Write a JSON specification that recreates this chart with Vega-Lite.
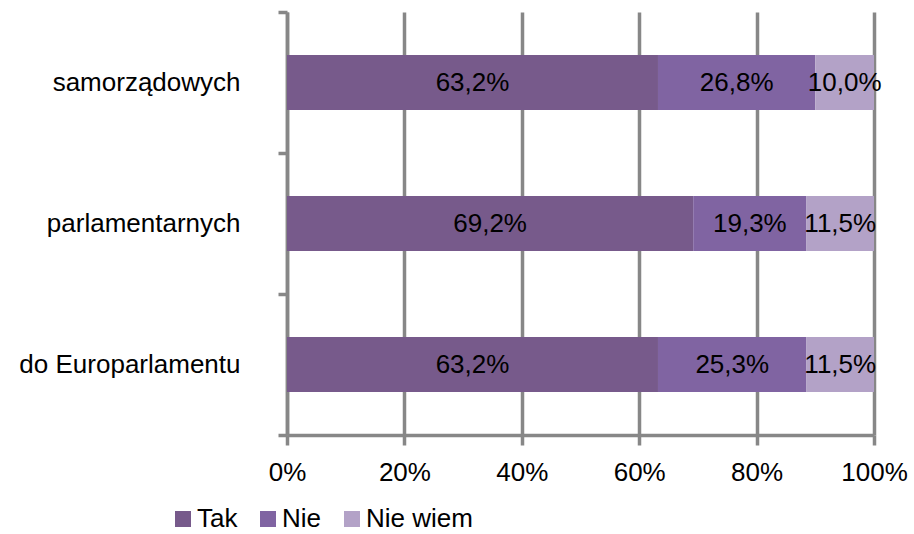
{
  "$schema": "https://vega.github.io/schema/vega-lite/v6.json",
  "autosize": "none",
  "width": 587,
  "height": 423,
  "padding": {"left": 287, "top": 12, "right": 40, "bottom": 99},
  "background": "white",
  "data": {
    "values": [
      {"kat": "samorządowych", "odp": "Tak", "ord": 1, "v": 63.2},
      {"kat": "samorządowych", "odp": "Nie", "ord": 2, "v": 26.8},
      {"kat": "samorządowych", "odp": "Nie wiem", "ord": 3, "v": 10.0},
      {"kat": "parlamentarnych", "odp": "Tak", "ord": 1, "v": 69.2},
      {"kat": "parlamentarnych", "odp": "Nie", "ord": 2, "v": 19.3},
      {"kat": "parlamentarnych", "odp": "Nie wiem", "ord": 3, "v": 11.5},
      {"kat": "do Europarlamentu", "odp": "Tak", "ord": 1, "v": 63.2},
      {"kat": "do Europarlamentu", "odp": "Nie", "ord": 2, "v": 25.3},
      {"kat": "do Europarlamentu", "odp": "Nie wiem", "ord": 3, "v": 11.5}
    ]
  },
  "transform": [
    {"stack": "v", "groupby": ["kat"], "sort": [{"field": "ord", "order": "ascending"}], "as": ["x0", "x1"]},
    {"calculate": "(datum.x0 + datum.x1) / 2", "as": "mid"},
    {"calculate": "replace(format(datum.v, '.1f'), '.', ',') + '%'", "as": "lab"}
  ],
  "encoding": {
    "y": {
      "field": "kat",
      "type": "nominal",
      "sort": ["samorządowych", "parlamentarnych", "do Europarlamentu"],
      "scale": {"paddingInner": 0, "paddingOuter": 0},
      "axis": {
        "title": null,
        "tickBand": "extent",
        "tickSize": 9,
        "tickWidth": 3.5,
        "tickColor": "#878787",
        "domainColor": "#878787",
        "domainWidth": 3.5,
        "labelFont": "Liberation Sans",
        "labelFontSize": 26,
        "labelColor": "#000000",
        "labelPadding": 38,
        "labelAlign": "right",
        "labelLimit": 0,
        "grid": false
      }
    }
  },
  "layer": [
    {
      "mark": {"type": "bar", "height": {"band": 0.39}},
      "encoding": {
        "x": {
          "field": "x0",
          "type": "quantitative",
          "scale": {"domain": [0, 100], "nice": false},
          "axis": {
            "title": null,
            "values": [0, 20, 40, 60, 80, 100],
            "labelExpr": "datum.value + '%'",
            "labelFlush": false,
            "grid": true,
            "gridColor": "#878787",
            "gridWidth": 3.5,
            "tickColor": "#878787",
            "tickWidth": 3.5,
            "tickSize": 10,
            "domainColor": "#878787",
            "domainWidth": 3.5,
            "labelFont": "Liberation Sans",
            "labelFontSize": 26,
            "labelColor": "#000000",
            "labelPadding": 14
          }
        },
        "x2": {"field": "x1"},
        "color": {
          "field": "odp",
          "type": "nominal",
          "sort": ["Tak", "Nie", "Nie wiem"],
          "scale": {"domain": ["Tak", "Nie", "Nie wiem"], "range": ["#775A8B", "#8064A2", "#B3A2C7"]},
          "legend": {
            "title": null,
            "orient": "none",
            "direction": "horizontal",
            "legendX": -117,
            "legendY": 494,
            "symbolType": "square",
            "symbolSize": 256,
            "symbolStrokeWidth": 0,
            "labelFont": "Liberation Sans",
            "labelFontSize": 26,
            "labelColor": "#000000",
            "labelOffset": 1,
            "labelLimit": 0,
            "columnPadding": 17,
            "padding": 0
          }
        }
      }
    },
    {
      "mark": {"type": "text", "font": "Liberation Sans", "fontSize": 26, "color": "#000000", "align": "center", "baseline": "middle"},
      "encoding": {
        "x": {"field": "mid", "type": "quantitative"},
        "text": {"field": "lab"}
      }
    }
  ],
  "config": {"view": {"stroke": null}}
}
